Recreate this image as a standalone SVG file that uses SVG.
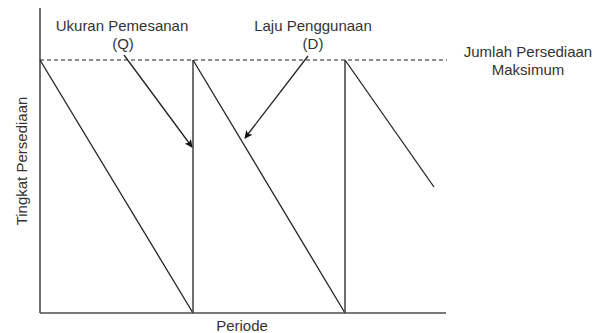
<svg xmlns="http://www.w3.org/2000/svg" width="604" height="333" viewBox="0 0 604 333">
<style>
text{font-family:"Liberation Sans",Arial,sans-serif;font-size:15px;fill:#333;text-anchor:middle}
.ax{stroke:#4d4d4d;stroke-width:1.6;fill:none}
.ln{stroke:#222;stroke-width:1.3;fill:none}
.ds{stroke:#222;stroke-width:1.2;stroke-dasharray:4 3;fill:none}
</style>
<defs>
<marker id="ah" viewBox="0 0 10 10" refX="9" refY="5" markerWidth="8" markerHeight="8" markerUnits="userSpaceOnUse" orient="auto">
<path d="M0,0 L10,5 L0,10 L2.5,5 Z" fill="#111"/>
</marker>
</defs>
<rect width="604" height="333" fill="#fff"/>
<g id="axes">
<line class="ax" x1="40" y1="8" x2="40" y2="313"/>
<line class="ax" x1="40" y1="313" x2="446" y2="313"/>
</g>
<g id="max-line">
<line class="ds" x1="40" y1="60" x2="447" y2="60"/>
</g>
<g id="cycles">
<line class="ln" x1="40" y1="60" x2="193" y2="313"/>
<line class="ax" x1="193" y1="60" x2="193" y2="313"/>
<line class="ln" x1="193" y1="60" x2="345" y2="313"/>
<line class="ax" x1="345" y1="60" x2="345" y2="313"/>
<line class="ln" x1="345" y1="60" x2="434" y2="187"/>
</g>
<g id="connectors">
<line class="ln" x1="124" y1="55" x2="192" y2="147" marker-end="url(#ah)"/>
<line class="ln" x1="308" y1="56" x2="245" y2="138" marker-end="url(#ah)"/>
</g>
<g id="label-q">
<text x="122" y="31">Ukuran Pemesanan</text>
<text x="123" y="49">(Q)</text>
</g>
<g id="label-d">
<text x="313" y="31">Laju Penggunaan</text>
<text x="313" y="49">(D)</text>
</g>
<g id="label-max">
<text x="528" y="57">Jumlah Persediaan</text>
<text x="528" y="75">Maksimum</text>
</g>
<g id="label-x">
<text x="242" y="331">Periode</text>
</g>
<g id="label-y">
<text transform="translate(27,161) rotate(-90)">Tingkat Persediaan</text>
</g>
</svg>
